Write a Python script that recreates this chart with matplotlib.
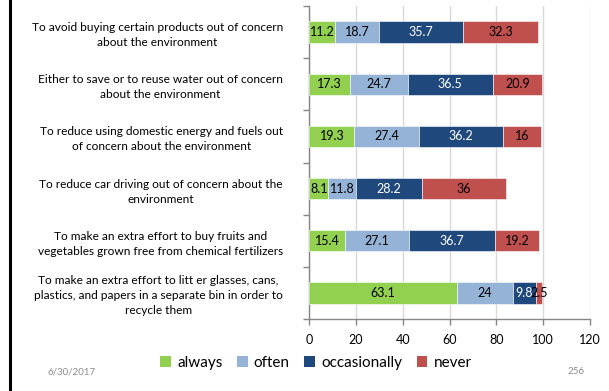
import matplotlib
matplotlib.use("Agg")
import matplotlib.pyplot as plt
from matplotlib.patches import Patch
from matplotlib.lines import Line2D
import numpy as np

plt.rcParams['font.family'] = ['Lato', 'DejaVu Sans']

categories = [
    "To avoid buying certain products out of concern\nabout the environment",
    "Either to save or to reuse water out of concern\nabout the environment",
    "To reduce using domestic energy and fuels out\nof concern about the environment",
    "To reduce car driving out of concern about the\nenvironment",
    "To make an extra effort to buy fruits and\nvegetables grown free from chemical fertilizers",
    "To make an extra effort to litt er glasses, cans,\nplastics, and papers in a separate bin in order to\nrecycle them",
]
always = [11.2, 17.3, 19.3, 8.1, 15.4, 63.1]
often = [18.7, 24.7, 27.4, 11.8, 27.1, 24]
occasionally = [35.7, 36.5, 36.2, 28.2, 36.7, 9.8]
never = [32.3, 20.9, 16, 36, 19.2, 2.5]
series_names = ["always", "often", "occasionally", "never"]
x_ticks = [0, 20, 40, 60, 80, 100, 120]
footer_date = "6/30/2017"
footer_page = "256"

colors = ["#92D050", "#95B3D7", "#1F497D", "#C0504D"]
label_colors = ["black", "black", "white", "black"]

fig = plt.figure(figsize=(6.09, 3.91), dpi=100)
ax = fig.add_axes([309.3 / 609, 1 - 319 / 391, (590 - 309.3) / 609, (319 - 6) / 391])

y = np.arange(len(categories))
left = np.zeros(len(categories))
for vals, name, col, tcol in zip([always, often, occasionally, never], series_names, colors, label_colors):
    vals = np.array(vals, dtype=float)
    bars = ax.barh(y, vals, left=left, height=0.41, color=col, label=name,
                   edgecolor="white", linewidth=0.4, zorder=3)
    labels = [f"{v:g}" for v in vals]
    ax.bar_label(bars, labels=labels, label_type="center", color=tcol,
                 fontsize=9, zorder=4)
    left += vals

ax.set_xlim(0, 120)
ax.set_ylim(len(categories) - 0.5, -0.5)
ax.set_xticks(x_ticks)
ax.set_xticklabels([str(t) for t in x_ticks], fontsize=9)
ax.xaxis.grid(True, color="#D9D9D9", linewidth=1, zorder=0)
ax.set_axisbelow(True)

ax.set_yticks(y)
ax.set_yticklabels(categories, fontsize=8.6, linespacing=1.45)
for t in ax.get_yticklabels():
    t.set_multialignment("center")
ax.tick_params(axis="y", length=0, pad=19)
ax.set_yticks(np.arange(-0.5, len(categories), 1.0), minor=True)
ax.tick_params(axis="y", which="minor", length=4, color="#868686", width=1)
ax.tick_params(axis="x", length=4, color="#868686", width=1, pad=7)

for s in ["top", "right"]:
    ax.spines[s].set_visible(False)
for s in ["left", "bottom"]:
    ax.spines[s].set_color("#868686")
    ax.spines[s].set_linewidth(1)

handles = [Patch(facecolor=c, edgecolor="none") for c in colors]
fig.legend(handles, series_names, loc="center", bbox_to_anchor=(316 / 609, 1 - 363 / 391),
           ncol=4, frameon=False, fontsize=11, handlelength=0.7, handleheight=0.7,
           handletextpad=0.4, columnspacing=0.95)

fig.text(47 / 609, 1 - 372 / 391, footer_date, fontsize=7, color="#8C8C8C", va="center")
fig.text(585 / 609, 1 - 372 / 391, footer_page, fontsize=7, color="#8C8C8C", va="center", ha="right")

fig.add_artist(Line2D([10 / 609, 10 / 609], [0, 1], color="black", linewidth=2.2))

fig.savefig("out.png", dpi=100)
